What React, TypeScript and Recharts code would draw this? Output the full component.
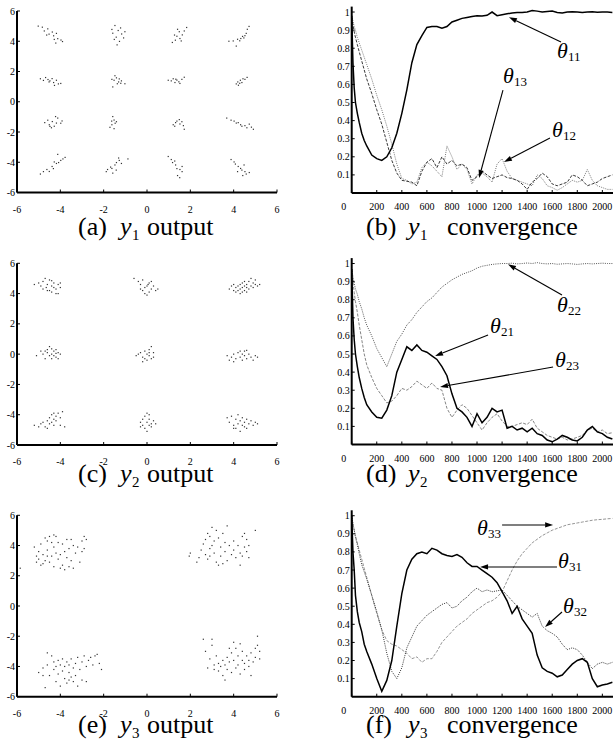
import React from 'react';
import { ScatterChart, Scatter, LineChart, Line, XAxis, YAxis, ReferenceLine } from 'recharts';

const FONT = '"Liberation Serif", "Times New Roman", serif';

// ---------- tick labels ----------
const SCATTER_TICKS = [-6, -4, -2, 0, 2, 4, 6];
const CONV_X_TICKS = [0, 200, 400, 600, 800, 1000, 1200, 1400, 1600, 1800, 2000];
const CONV_Y_TICKS = [0.1, 0.2, 0.3, 0.4, 0.5, 0.6, 0.7, 0.8, 0.9, 1];

// ---------- (a) y1 output ----------
const A_ROW1 = [
  [-5.02, 5.0], [-4.83, 4.93], [-4.74, 4.68], [-4.58, 4.82], [-4.52, 4.47], [-4.37, 4.61], [-4.31, 4.36], [-4.18, 4.52], [-4.12, 4.17], [-3.97, 4.08], [-3.9, 3.98], [-4.28, 4.12], [-4.63, 4.41], [-4.21, 3.88],
  [-1.62, 4.78], [-1.48, 5.04], [-1.33, 4.71], [-1.17, 4.48], [-1.02, 4.63], [-1.42, 4.27], [-1.51, 4.12], [-1.27, 3.99], [-1.08, 4.22], [-1.38, 3.76], [-1.58, 4.53], [-1.22, 4.88],
  [1.17, 3.92], [1.31, 4.07], [1.38, 4.33], [1.52, 4.18], [1.63, 4.42], [1.49, 4.63], [1.72, 4.68], [1.83, 4.91], [1.41, 4.79], [1.58, 4.02], [1.27, 4.41],
  [3.78, 4.0], [3.98, 4.02], [4.12, 3.68], [4.18, 4.13], [4.33, 4.18], [4.41, 4.32], [4.52, 4.37], [4.58, 4.52], [4.63, 4.79], [4.71, 4.98], [4.28, 4.03], [4.47, 4.22],
];
const A_ROW2 = [
  [-4.92, 1.52], [-4.78, 1.41], [-4.68, 1.6], [-4.57, 1.47], [-4.48, 1.38], [-4.38, 1.53], [-4.31, 1.27], [-4.18, 1.42], [-4.09, 1.18], [-3.98, 1.21], [-4.27, 1.08], [-4.52, 1.31],
  [-1.62, 1.48], [-1.48, 1.72], [-1.41, 1.58], [-1.28, 1.51], [-1.18, 1.38], [-1.52, 1.42], [-1.37, 1.19], [-1.21, 1.22], [-1.02, 1.19], [-1.58, 0.98], [-1.31, 1.31],
  [0.98, 1.42], [1.12, 1.38], [1.21, 1.52], [1.29, 1.27], [1.38, 1.43], [1.52, 1.21], [1.61, 1.48], [1.72, 1.62], [1.33, 1.49], [1.47, 1.32],
  [4.12, 1.18], [4.19, 1.31], [4.31, 1.42], [4.38, 1.27], [4.52, 1.48], [4.62, 1.61], [4.28, 1.22], [4.43, 1.52], [4.22, 1.09],
];
const A_ROW3 = [
  [-4.72, -1.38], [-4.58, -1.22], [-4.51, -1.52], [-4.37, -1.31], [-4.28, -1.62], [-4.18, -1.41], [-4.12, -1.08], [-3.98, -1.42], [-4.41, -1.72], [-4.22, -0.98], [-4.48, -1.63], [-3.92, -1.27],
  [-1.58, -0.98], [-1.52, -1.21], [-1.47, -1.42], [-1.62, -1.52], [-1.71, -1.69], [-1.52, -1.78], [-1.41, -1.32], [-1.63, -1.28],
  [1.21, -1.52], [1.32, -1.38], [1.38, -1.28], [1.52, -1.47], [1.61, -1.32], [1.68, -1.58], [1.72, -1.82], [1.28, -1.62], [1.49, -1.18],
  [3.68, -1.08], [3.88, -1.22], [4.02, -1.28], [4.12, -1.41], [4.21, -1.38], [4.32, -1.52], [4.38, -1.62], [4.52, -1.58], [4.61, -1.72], [4.72, -1.48], [4.82, -1.68], [4.91, -1.82],
];
const A_ROW4 = [
  [-4.92, -4.78], [-4.78, -4.62], [-4.62, -4.48], [-4.51, -4.61], [-4.38, -4.28], [-4.32, -4.42], [-4.18, -4.08], [-4.08, -4.02], [-3.98, -3.88], [-3.88, -3.78], [-4.12, -3.48], [-3.78, -3.68], [-4.28, -3.98],
  [-1.88, -4.62], [-1.82, -4.48], [-1.68, -4.32], [-1.62, -4.41], [-1.48, -4.18], [-1.41, -4.02], [-1.28, -3.88], [-1.18, -4.08], [-0.88, -3.78], [-1.58, -4.72], [-1.42, -4.52], [-1.31, -3.72],
  [0.98, -3.62], [1.12, -3.82], [1.18, -4.02], [1.32, -4.18], [1.38, -4.42], [1.52, -4.48], [1.62, -4.62], [1.41, -4.88], [1.51, -5.02], [1.28, -3.92], [1.62, -4.28],
  [3.88, -3.82], [4.02, -3.98], [4.08, -4.12], [4.21, -4.28], [4.32, -4.41], [4.38, -4.52], [4.52, -4.62], [4.58, -4.78], [4.72, -4.68], [4.42, -4.88], [4.18, -4.62], [4.48, -4.18],
];

// ---------- (c) y2 output ----------
const C_ROW1 = [
  [-5.2, 4.6], [-5.0, 4.7], [-4.9, 4.5], [-4.8, 4.8], [-4.7, 5.0], [-4.65, 4.4], [-4.6, 4.6], [-4.5, 4.2], [-4.5, 4.9], [-4.4, 4.5], [-4.4, 4.1], [-4.3, 4.4], [-4.3, 4.7], [-4.2, 4.3], [-4.1, 4.0], [-4.1, 4.6], [-4.0, 4.4], [-4.6, 4.2], [-4.8, 4.3], [-4.4, 4.85], [-4.2, 4.0], [-4.0, 4.7],
  [-0.6, 5.0], [-0.4, 4.8], [-0.3, 4.6], [-0.2, 4.9], [-0.1, 4.4], [-0.2, 4.2], [0.0, 4.5], [0.1, 4.7], [0.1, 4.1], [0.2, 4.3], [0.3, 4.5], [0.4, 4.2], [0.0, 3.9], [-0.1, 4.0], [0.2, 4.8], [-0.3, 4.3], [0.5, 4.3], [0.05, 4.6],
  [3.8, 4.3], [3.9, 4.5], [4.0, 4.2], [4.0, 4.6], [4.1, 4.4], [4.1, 4.1], [4.2, 4.5], [4.2, 4.2], [4.3, 4.6], [4.3, 4.3], [4.4, 4.4], [4.4, 4.1], [4.5, 4.5], [4.5, 4.2], [4.5, 4.8], [4.6, 4.4], [4.6, 4.6], [4.7, 4.3], [4.7, 4.8], [4.8, 4.5], [4.8, 5.0], [4.9, 4.7], [4.9, 4.4], [5.0, 4.9], [5.0, 4.6], [5.1, 4.5], [5.2, 4.6], [4.3, 4.0], [4.6, 4.1], [4.4, 4.7],
];
const C_ROW2 = [
  [-5.1, -0.1], [-4.9, 0.2], [-4.8, 0.0], [-4.7, -0.3], [-4.6, 0.3], [-4.6, 0.1], [-4.5, -0.1], [-4.5, 0.5], [-4.4, 0.0], [-4.4, -0.3], [-4.3, 0.2], [-4.3, -0.1], [-4.2, 0.3], [-4.2, -0.2], [-4.1, 0.1], [-4.1, -0.3], [-4.0, 0.0], [-4.7, 0.2], [-4.4, 0.35], [-4.2, 0.05],
  [-0.5, -0.1], [-0.4, 0.0], [-0.3, 0.1], [-0.2, -0.2], [-0.1, 0.2], [0.0, 0.0], [0.0, -0.4], [0.1, 0.3], [0.1, -0.1], [0.2, 0.5], [0.2, -0.3], [0.3, 0.1], [-0.2, -0.5], [-0.1, -0.3], [0.3, -0.2], [0.1, 0.1],
  [3.7, -0.1], [3.8, -0.4], [3.9, -0.2], [4.0, 0.0], [4.1, -0.3], [4.2, 0.1], [4.3, -0.2], [4.3, 0.2], [4.4, 0.0], [4.4, -0.4], [4.5, 0.2], [4.5, -0.1], [4.6, -0.3], [4.7, 0.0], [4.8, -0.2], [4.9, -0.4], [5.0, -0.1], [5.1, -0.2], [4.0, -0.5], [4.6, 0.25],
];
const C_ROW3 = [
  [-5.2, -4.7], [-5.0, -4.8], [-4.9, -4.6], [-4.8, -4.5], [-4.7, -4.8], [-4.6, -4.4], [-4.5, -4.6], [-4.5, -4.2], [-4.4, -4.5], [-4.4, -4.0], [-4.3, -4.3], [-4.3, -4.7], [-4.2, -4.1], [-4.2, -4.4], [-4.1, -3.9], [-4.0, -4.2], [-3.9, -3.8], [-3.8, -4.8], [-4.6, -4.9], [-4.0, -4.7], [-4.3, -3.9],
  [-0.3, -4.5], [-0.2, -4.7], [-0.2, -4.3], [-0.1, -4.9], [-0.1, -4.1], [0.0, -4.5], [0.0, -5.1], [0.1, -4.0], [0.1, -4.3], [0.2, -4.6], [0.2, -4.8], [0.3, -4.4], [0.4, -4.6], [0.1, -4.7], [-0.3, -4.8], [0.0, -3.9],
  [3.7, -4.2], [3.8, -4.5], [3.9, -4.1], [4.0, -4.7], [4.1, -4.3], [4.1, -4.9], [4.2, -4.0], [4.2, -4.6], [4.3, -4.4], [4.3, -5.1], [4.4, -4.2], [4.4, -4.7], [4.5, -4.5], [4.6, -4.3], [4.6, -4.9], [4.7, -4.6], [4.8, -4.4], [4.9, -4.7], [5.0, -4.5], [5.1, -4.6], [4.0, -4.9], [4.5, -4.8],
];

// ---------- (e) y3 output ----------
const E_TL = [
  [-5.85, 2.5], [-5.2, 3.9], [-5.1, 3.3], [-5.1, 2.9], [-5.0, 3.6], [-5.0, 3.1], [-4.9, 4.1], [-4.9, 2.7], [-4.8, 3.4], [-4.8, 2.8], [-4.7, 4.5], [-4.7, 3.0], [-4.6, 4.3], [-4.6, 3.7], [-4.5, 4.6], [-4.5, 2.9], [-4.4, 3.3], [-4.4, 4.2], [-4.3, 3.9], [-4.3, 2.6], [-4.2, 4.6], [-4.2, 3.5], [-4.1, 3.1], [-4.1, 4.2], [-4.0, 2.5], [-4.0, 3.4], [-3.9, 4.1], [-3.9, 2.7], [-3.8, 3.6], [-3.8, 2.4], [-3.7, 4.4], [-3.7, 3.2], [-3.6, 2.6], [-3.6, 3.8], [-3.5, 3.0], [-3.4, 4.0], [-3.4, 2.5], [-3.3, 3.5], [-3.2, 3.9], [-3.1, 2.9], [-3.0, 4.3], [-3.0, 3.6], [-2.9, 3.8], [-2.9, 4.6], [-2.8, 4.4], [-4.6, 3.3], [-4.3, 4.7], [-3.5, 4.4],
];
const E_TR = [
  [1.95, 3.3], [2.0, 3.5], [2.3, 2.9], [2.4, 3.2], [2.5, 3.7], [2.6, 4.1], [2.7, 3.4], [2.7, 4.4], [2.8, 3.1], [2.8, 4.8], [2.9, 3.8], [2.9, 4.6], [3.0, 5.2], [3.0, 4.0], [3.1, 3.5], [3.1, 4.3], [3.2, 5.0], [3.2, 2.9], [3.3, 2.7], [3.3, 4.5], [3.4, 3.9], [3.4, 3.3], [3.5, 4.8], [3.6, 4.2], [3.6, 3.6], [3.7, 5.3], [3.7, 3.0], [3.8, 4.0], [3.9, 3.4], [4.0, 4.3], [4.0, 3.7], [4.1, 3.2], [4.2, 4.0], [4.3, 3.5], [4.3, 2.7], [4.4, 4.6], [4.4, 3.3], [4.5, 4.8], [4.5, 3.9], [4.6, 3.6], [4.6, 4.4], [4.7, 3.2], [4.7, 4.0], [5.0, 5.0], [3.5, 2.8], [2.9, 3.3],
];
const E_BL = [
  [-5.0, -4.4], [-4.8, -4.1], [-4.7, -5.4], [-4.6, -3.1], [-4.6, -3.9], [-4.5, -4.6], [-4.4, -3.3], [-4.3, -4.2], [-4.3, -3.7], [-4.2, -5.0], [-4.1, -3.6], [-4.1, -4.5], [-4.0, -3.9], [-4.0, -5.3], [-3.9, -4.3], [-3.9, -3.5], [-3.8, -4.0], [-3.8, -4.8], [-3.7, -3.7], [-3.7, -5.1], [-3.6, -4.4], [-3.6, -3.9], [-3.5, -4.7], [-3.5, -3.5], [-3.4, -4.1], [-3.4, -5.0], [-3.3, -3.8], [-3.3, -4.6], [-3.2, -3.4], [-3.2, -5.3], [-3.1, -4.2], [-3.0, -3.7], [-3.0, -4.9], [-2.9, -3.3], [-2.8, -4.0], [-2.8, -5.0], [-2.7, -3.6], [-2.6, -3.4], [-2.5, -3.9], [-2.4, -3.3], [-2.3, -3.2], [-2.2, -3.8], [-2.1, -4.2], [-4.8, -4.6], [-4.2, -4.0], [-3.6, -4.9],
];
const E_BR = [
  [2.6, -2.2], [2.7, -3.0], [2.8, -4.1], [2.9, -3.5], [3.0, -2.2], [3.0, -2.6], [3.1, -3.9], [3.1, -4.2], [3.2, -3.3], [3.3, -3.8], [3.3, -4.3], [3.4, -4.0], [3.5, -3.6], [3.5, -4.6], [3.6, -3.9], [3.6, -4.9], [3.7, -3.4], [3.7, -4.2], [3.8, -2.8], [3.8, -3.7], [3.9, -4.4], [3.9, -3.1], [4.0, -2.4], [4.0, -3.6], [4.1, -2.8], [4.1, -4.1], [4.2, -3.3], [4.2, -3.9], [4.3, -2.5], [4.3, -4.5], [4.4, -3.6], [4.4, -3.0], [4.5, -3.8], [4.5, -4.2], [4.6, -3.3], [4.7, -4.0], [4.7, -3.6], [4.8, -4.6], [4.8, -3.1], [4.9, -3.7], [5.0, -3.4], [5.0, -2.8], [5.1, -2.0], [5.1, -2.6], [5.2, -3.0], [5.2, -3.5],
];

// ---------- convergence curves ----------
const ITER = [0, 10, 20, 30, 45, 60, 80, 100,
  120, 160, 200, 240, 280, 320, 360, 400, 440, 480,
  520, 560, 600, 640, 680, 720, 760, 800, 840, 880,
  920, 960, 1000, 1040, 1080, 1120, 1160, 1200, 1240, 1280,
  1320, 1360, 1400, 1440, 1480, 1520, 1560, 1600, 1640, 1680,
  1720, 1760, 1800, 1840, 1880, 1920, 1960, 2000, 2040, 2080];

const T11 = [0.98, 0.72, 0.58, 0.50, 0.44, 0.39, 0.33, 0.29,
  0.26, 0.21, 0.19, 0.18, 0.20, 0.25, 0.33, 0.44, 0.57, 0.72,
  0.82, 0.87, 0.915, 0.92, 0.92, 0.91, 0.92, 0.945, 0.955, 0.965,
  0.97, 0.975, 0.98, 0.978, 0.982, 1.0, 0.98, 0.985, 0.99, 0.995,
  0.997, 0.998, 1.0, 1.008, 1.005, 1.0, 1.003, 1.005, 0.998, 0.995,
  1.0, 1.002, 1.0, 0.998, 1.0, 1.002, 0.999, 1.0, 1.0, 0.998];
const T12 = [0.98, 0.95, 0.92, 0.90, 0.86, 0.83, 0.79, 0.75,
  0.71, 0.63, 0.54, 0.46, 0.37, 0.27, 0.16, 0.08, 0.07, 0.05,
  0.06, 0.14, 0.17, 0.15, 0.12, 0.09, 0.26, 0.20, 0.13, 0.16,
  0.13, 0.05, 0.10, 0.11, 0.09, 0.06, 0.16, 0.19, 0.12, 0.08,
  0.07, 0.06, 0.05, 0.04, 0.10, 0.08, 0.04, 0.03, 0.015, 0.03,
  0.05, 0.07, 0.06, 0.07, 0.13, 0.07, 0.04, 0.03, 0.02, 0.02];
const T13 = [0.97, 0.93, 0.89, 0.86, 0.82, 0.78, 0.73, 0.68,
  0.63, 0.55, 0.46, 0.38, 0.28, 0.18, 0.11, 0.07, 0.065, 0.06,
  0.04, 0.12, 0.17, 0.19, 0.14, 0.20, 0.16, 0.18, 0.15, 0.16,
  0.14, 0.07, 0.09, 0.12, 0.10, 0.08, 0.09, 0.10, 0.085, 0.08,
  0.07, 0.05, 0.02, 0.06, 0.08, 0.11, 0.09, 0.05, 0.04, 0.05,
  0.06, 0.10, 0.09, 0.07, 0.04, 0.05, 0.06, 0.08, 0.09, 0.10];

const T21 = [0.97, 0.70, 0.58, 0.50, 0.43, 0.37, 0.31, 0.26,
  0.22, 0.18, 0.15, 0.145, 0.19, 0.27, 0.40, 0.47, 0.54, 0.52,
  0.55, 0.52, 0.51, 0.49, 0.47, 0.43, 0.38, 0.28, 0.20, 0.18,
  0.15, 0.10, 0.17, 0.12, 0.15, 0.20, 0.18, 0.19, 0.09, 0.10,
  0.08, 0.09, 0.07, 0.09, 0.06, 0.05, 0.025, 0.015, 0.03, 0.05,
  0.04, 0.025, 0.02, 0.04, 0.08, 0.10, 0.07, 0.06, 0.04, 0.03];
const T22 = [0.97, 0.93, 0.89, 0.86, 0.83, 0.79, 0.75, 0.70,
  0.66, 0.60, 0.53, 0.48, 0.43, 0.50, 0.57, 0.61, 0.66, 0.69,
  0.73, 0.76, 0.79, 0.81, 0.84, 0.87, 0.89, 0.91, 0.925, 0.94,
  0.95, 0.96, 0.975, 0.985, 0.99, 0.995, 0.998, 1.0, 1.0, 1.002,
  0.998, 1.0, 1.003, 1.0, 1.005, 1.0, 0.998, 1.0, 0.996, 0.998,
  1.0, 0.998, 0.995, 0.998, 1.0, 0.998, 1.0, 1.002, 1.0, 1.0];
const T23 = [0.97, 0.90, 0.84, 0.79, 0.73, 0.66, 0.58, 0.50,
  0.44, 0.37, 0.31, 0.27, 0.23, 0.24, 0.27, 0.31, 0.30, 0.32,
  0.35, 0.33, 0.31, 0.34, 0.31, 0.30, 0.20, 0.15, 0.19, 0.22,
  0.20, 0.16, 0.12, 0.08, 0.12, 0.15, 0.17, 0.13, 0.10, 0.10,
  0.11, 0.12, 0.11, 0.14, 0.09, 0.07, 0.05, 0.04, 0.03, 0.04,
  0.025, 0.03, 0.04, 0.05, 0.08, 0.09, 0.07, 0.08, 0.06, 0.065];

const T31 = [1.0, 0.80, 0.70, 0.56, 0.47, 0.41, 0.36, 0.29,
  0.25, 0.18, 0.10, 0.03, 0.09, 0.20, 0.39, 0.57, 0.70, 0.76,
  0.79, 0.80, 0.79, 0.82, 0.81, 0.79, 0.78, 0.775, 0.785, 0.77,
  0.74, 0.72, 0.72, 0.70, 0.68, 0.66, 0.63, 0.58, 0.53, 0.46,
  0.50, 0.43, 0.39, 0.35, 0.23, 0.16, 0.14, 0.13, 0.11, 0.12,
  0.15, 0.18, 0.20, 0.21, 0.19, 0.10, 0.055, 0.065, 0.07, 0.08];
const T32 = [1.0, 0.96, 0.92, 0.88, 0.84, 0.79, 0.73, 0.69,
  0.65, 0.56, 0.47, 0.37, 0.24, 0.14, 0.10, 0.16, 0.27, 0.33,
  0.39, 0.42, 0.45, 0.47, 0.49, 0.51, 0.52, 0.49, 0.50, 0.53,
  0.55, 0.58, 0.60, 0.58, 0.59, 0.58, 0.585, 0.59, 0.56, 0.53,
  0.50, 0.48, 0.46, 0.44, 0.46, 0.39, 0.365, 0.35, 0.33, 0.29,
  0.26, 0.27, 0.26, 0.23, 0.19, 0.155, 0.18, 0.19, 0.18, 0.19];
const T33 = [0.98, 0.95, 0.92, 0.89, 0.85, 0.81, 0.76, 0.71,
  0.66, 0.56, 0.46, 0.37, 0.31, 0.29, 0.28, 0.26, 0.24, 0.21,
  0.22, 0.19, 0.21, 0.21, 0.25, 0.30, 0.33, 0.36, 0.39, 0.41,
  0.43, 0.46, 0.48, 0.50, 0.52, 0.53, 0.55, 0.58, 0.64, 0.70,
  0.75, 0.79, 0.82, 0.85, 0.87, 0.89, 0.905, 0.92, 0.93, 0.94,
  0.95, 0.955, 0.96, 0.965, 0.97, 0.975, 0.978, 0.98, 0.983, 0.985];

// annotation arrows (data coordinates: [iteration, value])
const ARROWS_B = [
  { from: [1670, 0.834], to: [1255, 0.971] },
  { from: [1207, 0.569], to: [1016, 0.083] },
  { from: [1582, 0.304], to: [1215, 0.171] },
];
const ARROWS_D = [
  { from: [1678, 0.826], to: [1247, 0.996] },
  { from: [1088, 0.605], to: [665, 0.489] },
  { from: [1607, 0.428], to: [705, 0.318] },
];
const ARROWS_F = [
  { from: [1200, 0.949], to: [1607, 0.949] },
  { from: [1638, 0.717], to: [1024, 0.717] },
  { from: [1678, 0.468], to: [1543, 0.385] },
];

const THETA_LABELS = [
  { sub: '11', x: 557, y: 58 }, { sub: '13', x: 503, y: 83 }, { sub: '12', x: 552, y: 137 },
  { sub: '22', x: 557, y: 312 }, { sub: '21', x: 490, y: 333 }, { sub: '23', x: 555, y: 367 },
  { sub: '33', x: 477, y: 535 }, { sub: '31', x: 558, y: 568 }, { sub: '32', x: 563, y: 613 },
];

const CAPTIONS = [
  { tag: '(a)', sub: '1', word: 'output', x: 78, y: 235 },
  { tag: '(b)', sub: '1', word: 'convergence', x: 366, y: 235 },
  { tag: '(c)', sub: '2', word: 'output', x: 78, y: 482 },
  { tag: '(d)', sub: '2', word: 'convergence', x: 366, y: 482 },
  { tag: '(e)', sub: '3', word: 'output', x: 78, y: 733 },
  { tag: '(f)', sub: '3', word: 'convergence', x: 366, y: 733 },
];

// ---------- helpers ----------
const tickStyle = { fontSize: 10, fontFamily: FONT, fill: '#000' };
const axisLineStyle = { stroke: '#000', strokeWidth: 2 };
const tickLineStyle = { stroke: '#000', strokeWidth: 1 };

const PointDot = (p: any) => (
  <rect x={p.cx - 0.6} y={p.cy - 0.6} width={1.2} height={1.2} fill="#333" />
);

const Arrow = (p: any) => {
  const { x1, y1, x2, y2 } = p;
  const a = Math.atan2(y2 - y1, x2 - x1);
  const L = 8;
  const W = 2.6;
  const bx = x2 - L * Math.cos(a);
  const by = y2 - L * Math.sin(a);
  const pts = `${x2},${y2} ${bx - W * Math.sin(a)},${by + W * Math.cos(a)} ${bx + W * Math.sin(a)},${by - W * Math.cos(a)}`;
  return (
    <g>
      <line x1={x1} y1={y1} x2={bx} y2={by} stroke="#000" strokeWidth={1.1} />
      <polygon points={pts} fill="#000" />
    </g>
  );
};

const ConvXTick = (p: any) => {
  const { x, y, payload } = p;
  const shift = payload.value === 0 ? -8 : 0;
  return (
    <text x={x + shift} y={y} dy="0.71em" textAnchor="middle" fontSize={10} fontFamily={FONT} fill="#000">
      {payload.value}
    </text>
  );
};

const H = 220;

function ScatterPanel({ top, points, plotTop, plotBottom }: any) {
  const data = points.map((p: number[]) => ({ x: p[0], y: p[1] }));
  return (
    <div style={{ position: 'absolute', left: 0, top, width: 290, height: H }}>
      <ScatterChart width={290} height={H} margin={{ top: plotTop, right: 13, bottom: H - plotBottom - 20, left: 0 }}>
        <XAxis type="number" dataKey="x" domain={[-6, 6]} ticks={SCATTER_TICKS} interval={0} height={20}
          axisLine={axisLineStyle} tickLine={tickLineStyle} tickSize={-3} tickMargin={16} tick={tickStyle} allowDataOverflow />
        <YAxis type="number" dataKey="y" domain={[-6, 6]} ticks={SCATTER_TICKS} interval={0} width={17}
          axisLine={axisLineStyle} tickLine={tickLineStyle} tickSize={-3} tickMargin={5} tick={tickStyle} allowDataOverflow />
        <Scatter data={data} shape={PointDot} isAnimationActive={false} />
      </ScatterChart>
    </div>
  );
}

function ConvPanel({ top, series, arrows, plotTop, plotBottom }: any) {
  const rows = ITER.map((it, i) => {
    const r: any = { it };
    series.forEach((s: any) => { r[s.key] = s.values[i]; });
    return r;
  });
  return (
    <div style={{ position: 'absolute', left: 300, top, width: 313, height: H }}>
      <LineChart width={313} height={H} data={rows} margin={{ top: plotTop, right: 0, bottom: H - plotBottom - 20, left: 0 }}>
        <XAxis type="number" dataKey="it" domain={[0, 2085]} ticks={CONV_X_TICKS} interval={0} height={20}
          axisLine={axisLineStyle} tickLine={tickLineStyle} tickSize={-3} tickMargin={13} tick={<ConvXTick />} allowDataOverflow />
        <YAxis type="number" domain={[0, 1.03]} ticks={CONV_Y_TICKS} interval={0} width={51.7}
          axisLine={axisLineStyle} tickLine={tickLineStyle} tickSize={-3} tickMargin={5} tick={tickStyle} allowDataOverflow />
        {series.map((s: any) => (
          <Line key={s.key} type="linear" dataKey={s.key} dot={false} isAnimationActive={false}
            stroke={s.color} strokeWidth={s.width} strokeDasharray={s.dash} />
        ))}
        {arrows.map((a: any, i: number) => (
          <ReferenceLine key={i} ifOverflow="visible"
            segment={[{ x: a.from[0], y: a.from[1] }, { x: a.to[0], y: a.to[1] }]} shape={Arrow} />
        ))}
      </LineChart>
    </div>
  );
}

const dotted = (key: string, values: number[], color = '#555') => ({ key, values, color, width: 1, dash: '1 1.2' });
const dashed = (key: string, values: number[], color = '#222') => ({ key, values, color, width: 0.9, dash: '3 1.5' });
const solid = (key: string, values: number[]) => ({ key, values, color: '#000', width: 1.5, dash: undefined });

export default function App() {
  return (
    <div style={{ position: 'absolute', left: 0, top: 0, width: 613, height: 753, background: '#fff', overflow: 'hidden', fontFamily: FONT }}>
      <ScatterPanel top={0} points={[...A_ROW1, ...A_ROW2, ...A_ROW3, ...A_ROW4]} plotTop={11} plotBottom={192.5} />
      <ScatterPanel top={250} points={[...C_ROW1, ...C_ROW2, ...C_ROW3]} plotTop={13.3} plotBottom={195} />
      <ScatterPanel top={500} points={[...E_TL, ...E_TR, ...E_BL, ...E_BR]} plotTop={15.3} plotBottom={196.7} />

      <ConvPanel top={0} plotTop={6.6} plotBottom={193} arrows={ARROWS_B}
        series={[dotted('t12', T12, '#777'), dashed('t13', T13), solid('t11', T11)]} />
      <ConvPanel top={250} plotTop={8.1} plotBottom={194.5} arrows={ARROWS_D}
        series={[dotted('t22', T22), dashed('t23', T23, '#777'), solid('t21', T21)]} />
      <ConvPanel top={500} plotTop={10.3} plotBottom={196.7} arrows={ARROWS_F}
        series={[dashed('t33', T33, '#888'), dotted('t32', T32, '#333'), solid('t31', T31)]} />

      <svg width={613} height={753} style={{ position: 'absolute', left: 0, top: 0, pointerEvents: 'none' }}>
        {THETA_LABELS.map((t, i) => (
          <g key={i} fontFamily={FONT} fill="#000">
            <text x={t.x} y={t.y} fontSize={22} fontStyle="italic">θ</text>
            <text x={t.x + 11} y={t.y + 3} fontSize={13}>{t.sub}</text>
          </g>
        ))}
        {CAPTIONS.map((c, i) => {
          const isConv = c.word === 'convergence';
          return (
            <g key={'c' + i} fontFamily={FONT} fill="#000">
              <text x={c.x} y={c.y} fontSize={26}>{c.tag}</text>
              <text x={c.x + 42} y={c.y} fontSize={26} fontStyle="italic">y</text>
              <text x={c.x + 54} y={c.y + 5} fontSize={15}>{c.sub}</text>
              <text x={c.x + (isConv ? 81 : 69)} y={c.y} fontSize={26}>{c.word}</text>
            </g>
          );
        })}
      </svg>
    </div>
  );
}
